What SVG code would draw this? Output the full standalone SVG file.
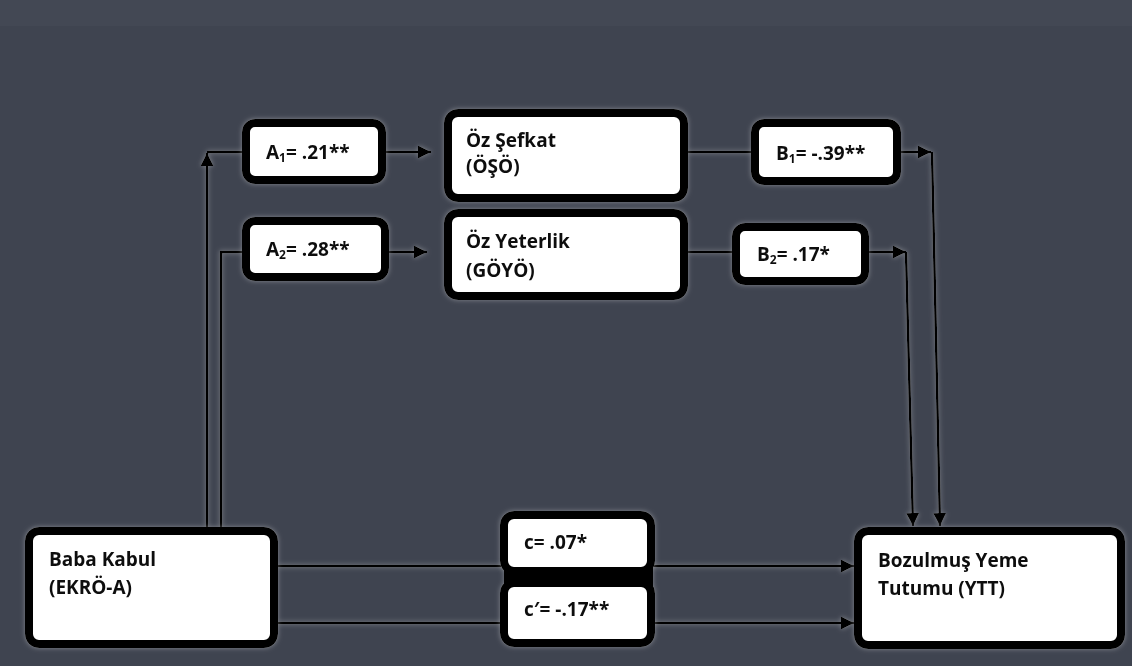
<svg xmlns="http://www.w3.org/2000/svg" width="1132" height="666" viewBox="0 0 1132 666">
<style>
.box{fill:#ffffff;stroke:#000000;stroke-width:8}
.t{font-family:"Open Sans","Liberation Sans",sans-serif;font-weight:700;font-size:19px;fill:#111111}
.sub{font-size:12px}
.ln{fill:none;stroke:#000000;stroke-width:2.5}
</style>
<defs>
<marker id="ah" markerUnits="userSpaceOnUse" markerWidth="14" markerHeight="14" refX="13" refY="6.5" orient="auto">
<path d="M0,0 L13,6.5 L0,13 Z" fill="#000"/>
</marker>
<filter id="glow" x="-20%" y="-20%" width="140%" height="140%">
<feGaussianBlur in="SourceAlpha" stdDeviation="2.5" result="b"/>
<feFlood flood-color="#ffffff" flood-opacity="0.35"/>
<feComposite in2="b" operator="in" result="g"/>
<feMerge><feMergeNode in="g"/><feMergeNode in="SourceGraphic"/></feMerge>
</filter>
</defs>
<rect x="0" y="0" width="1132" height="666" fill="#3f4450"/>
<rect x="0" y="0" width="1132" height="26" fill="#434854"/>

<g id="connectors" filter="url(#glow)">
<path class="ln" d="M207,527 V153" marker-end="url(#ah)"/>
<path class="ln" d="M207,152 H244"/>
<path class="ln" d="M221,527 V252 H244"/>
<path class="ln" d="M386,152 H431" marker-end="url(#ah)"/>
<path class="ln" d="M389,252 H427" marker-end="url(#ah)"/>
<path class="ln" d="M688,152 H753"/>
<path class="ln" d="M688,252 H733"/>
<path class="ln" d="M901,152 H931" marker-end="url(#ah)"/>
<path class="ln" d="M932,152 L940,526" marker-end="url(#ah)"/>
<path class="ln" d="M869,252 H906" marker-end="url(#ah)"/>
<path class="ln" d="M906,252 L913,526" marker-end="url(#ah)"/>
<path class="ln" d="M278,566 H854" marker-end="url(#ah)"/>
<path class="ln" d="M278,623 H854" marker-end="url(#ah)"/>
</g>

<g id="node-a1" filter="url(#glow)">
<rect class="box" x="246" y="123" width="136" height="57" rx="9"/>
<text class="t" x="266" y="159">A<tspan class="sub" dy="3">1</tspan><tspan dy="-3">= .21**</tspan></text>
</g>
<g id="node-a2" filter="url(#glow)">
<rect class="box" x="246" y="221" width="139" height="56" rx="9"/>
<text class="t" x="266" y="256">A<tspan class="sub" dy="3">2</tspan><tspan dy="-3">= .28**</tspan></text>
</g>
<g id="node-ozsefkat" filter="url(#glow)">
<rect class="box" x="448" y="113" width="236" height="85" rx="10"/>
<text class="t" x="466" y="147">Öz Şefkat</text>
<text class="t" x="466" y="173">(ÖŞÖ)</text>
</g>
<g id="node-ozyeterlik" filter="url(#glow)">
<rect class="box" x="448" y="213" width="236" height="83" rx="10"/>
<text class="t" x="466" y="248">Öz Yeterlik</text>
<text class="t" x="466" y="277">(GÖYÖ)</text>
</g>
<g id="node-b1" filter="url(#glow)">
<rect class="box" x="755" y="123" width="142" height="58" rx="9"/>
<text class="t" x="776" y="160">B<tspan class="sub" dy="3">1</tspan><tspan dy="-3">= -.39**</tspan></text>
</g>
<g id="node-b2" filter="url(#glow)">
<rect class="box" x="736" y="227" width="129" height="54" rx="9"/>
<text class="t" x="757" y="261">B<tspan class="sub" dy="3">2</tspan><tspan dy="-3">= .17*</tspan></text>
</g>
<g id="node-baba" filter="url(#glow)">
<rect class="box" x="29" y="531" width="245" height="113" rx="10"/>
<text class="t" x="49" y="566">Baba Kabul</text>
<text class="t" x="49" y="594">(EKRÖ-A)</text>
</g>
<g id="node-c" filter="url(#glow)">
<rect x="504" y="562" width="149" height="30" fill="#000"/>
<rect class="box" x="504" y="515" width="147" height="56" rx="10"/>
<rect class="box" x="504" y="583" width="147" height="60" rx="10"/>
<text class="t" x="524" y="549">c= .07*</text>
<text class="t" x="524" y="616">c′= -.17**</text>
</g>
<g id="node-ytt" filter="url(#glow)">
<rect class="box" x="858" y="531" width="263" height="114" rx="10"/>
<text class="t" x="878" y="567">Bozulmuş Yeme</text>
<text class="t" x="878" y="595">Tutumu (YTT)</text>
</g>
</svg>
